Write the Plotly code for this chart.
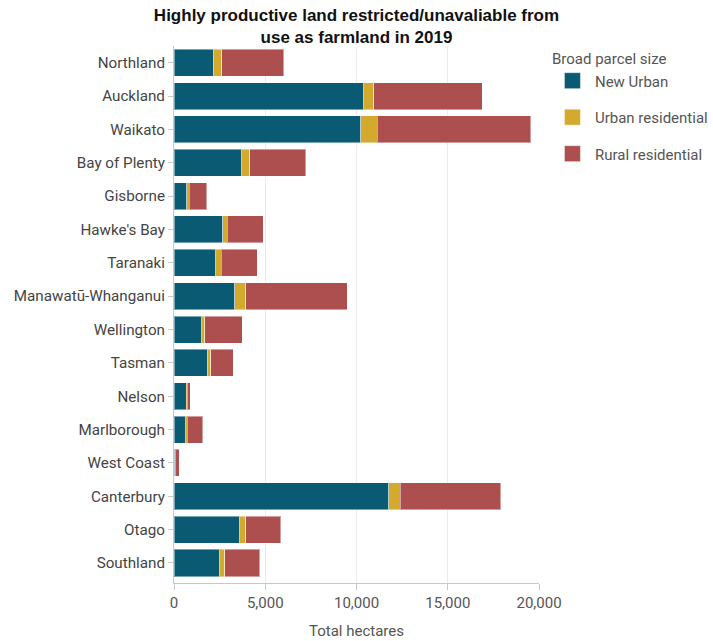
import plotly.graph_objects as go

regions = ["Northland", "Auckland", "Waikato", "Bay of Plenty", "Gisborne", "Hawke's Bay",
           "Taranaki", "Manawatū-Whanganui", "Wellington", "Tasman", "Nelson", "Marlborough",
           "West Coast", "Canterbury", "Otago", "Southland"]
new_urban = [2150, 10400, 10220, 3700, 710, 2660, 2300, 3340, 1515, 1810, 675, 640, 35, 11770, 3610, 2500]
urban_residential = [475, 550, 910, 460, 130, 260, 290, 600, 180, 200, 40, 90, 40, 640, 330, 275]
rural_residential = [3395, 5950, 8430, 3065, 950, 1970, 1970, 5550, 2045, 1240, 165, 840, 220, 5490, 1900, 1935]

series_names = ["New Urban", "Urban residential", "Rural residential"]
series_values = [new_urban, urban_residential, rural_residential]
colors = ["#0b5a73", "#d4aa2e", "#ad4f4f"]

fig = go.Figure()
for i, (name, vals, col) in enumerate(zip(series_names, series_values, colors)):
    fig.add_trace(go.Bar(
        y=regions, x=vals, name=name, orientation="h",
        marker=dict(color=col, line=dict(color="rgba(255,255,255,0.45)", width=1)),
        legendgroup=f"g{i}", showlegend=False,
        hovertemplate="%{y}: %{x:,}<extra>" + name + "</extra>",
    ))
    # legend entry with a larger square swatch
    fig.add_trace(go.Scatter(
        x=[None], y=[None], mode="markers", name=name, legendgroup=f"g{i}",
        marker=dict(symbol="square", size=16, color=col,
                    line=dict(color="rgba(255,255,255,0.45)", width=1)),
        showlegend=True, hoverinfo="skip",
    ))

fig.update_layout(
    barmode="stack",
    bargap=0.19,
    width=713, height=641,
    margin=dict(l=173.5, r=174.3, t=45.8, b=58, autoexpand=False),
    paper_bgcolor="white", plot_bgcolor="white",
    font=dict(family="Roboto, Arial, sans-serif", color="#444", size=15),
    title=dict(
        text="<b>Highly productive land restricted/unavaliable from<br>use as farmland in 2019</b>",
        x=0.5, xanchor="center", xref="container",
        y=0.967, yanchor="middle", yref="container",
        font=dict(family="Liberation Sans, Arial, sans-serif", size=17, color="#111"),
    ),
    legend=dict(
        title=dict(text="Broad parcel size", font=dict(size=15, color="#555")),
        x=1.03, xanchor="left", y=1.002, yanchor="top",
        font=dict(size=15, color="#555"),
        tracegroupgap=14,
        traceorder="grouped",
        itemsizing="trace",
        itemwidth=35,
    ),
    xaxis=dict(
        range=[0, 20000], tickvals=[0, 5000, 10000, 15000, 20000],
        tickformat=",", showgrid=True, gridcolor="#ebebeb", gridwidth=1,
        zeroline=False, showline=True, linecolor="#c8c8c8",
        ticks="outside", ticklen=6, tickcolor="#c8c8c8",
        tickfont=dict(size=15, color="#555"),
        title=dict(text="Total hectares", font=dict(size=15, color="#555"), standoff=14),
        automargin=False,
    ),
    yaxis=dict(
        categoryorder="array", categoryarray=regions,
        range=[15.6, -0.5],
        showline=True, linecolor="#c8c8c8",
        ticks="outside", ticklen=5, tickcolor="#c8c8c8",
        tickfont=dict(size=15.2, color="#444"),
        showgrid=False, automargin=False,
    ),
)

fig.write_html("out.html", config={"displayModeBar": False},
               post_script="document.body.style.margin='0';document.body.style.padding='0';")
